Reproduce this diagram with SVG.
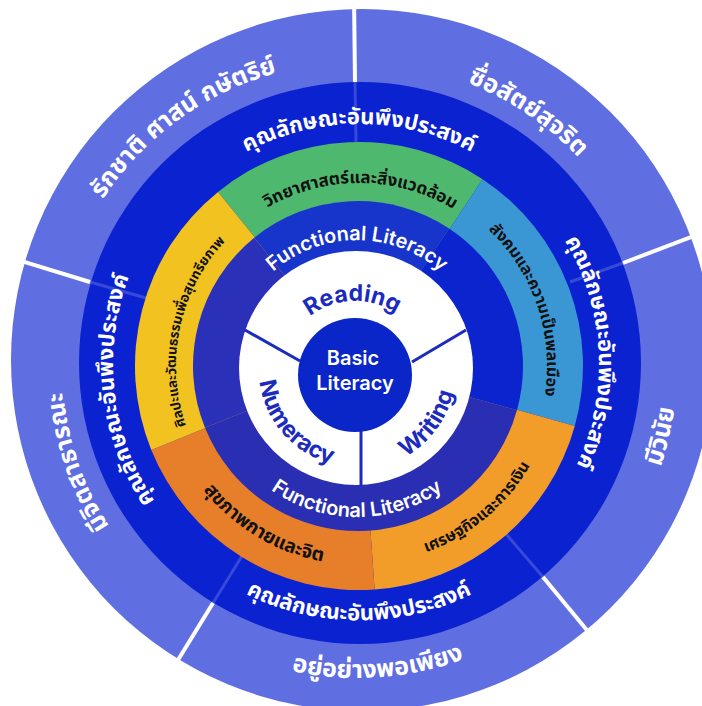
<svg xmlns="http://www.w3.org/2000/svg" width="702" height="706" viewBox="0 0 702 706">
<style>
.o{font-family:'Noto Sans Thai','Noto Sans',sans-serif;font-weight:700;font-size:25px;fill:#fff}
.d{font-family:'Noto Sans Thai','Noto Sans',sans-serif;font-weight:700;font-size:22px;fill:#fff}
.m{font-family:'Noto Sans Thai','Noto Sans',sans-serif;font-weight:700;font-size:16px;fill:#111}
.w{font-family:Inter,'Noto Sans',sans-serif;font-weight:700;font-size:23px;fill:#1B2BBE}
.f{font-family:Inter,'Noto Sans',sans-serif;font-weight:600;font-size:20px;fill:#fff}
.b{font-family:Inter,'Noto Sans',sans-serif;font-weight:600;font-size:20px;fill:#fff}
.div{stroke:#fff;stroke-width:4}
.faint{stroke:#fff;stroke-opacity:0.18;stroke-width:3}
.wl{stroke:#1B2BBE;stroke-width:3}
</style>
<defs>
<path id="po1" d="M62.0,292.5 A304,304 0 0 1 378.2,62.7"/>
<path id="po2" d="M325.2,63.7 A304,304 0 0 1 649.2,282.2"/>
<path id="po3" d="M549.6,621.6 A320,320 0 0 0 642.1,220.7"/>
<path id="po4" d="M173.6,618.4 A312,312 0 0 0 573.7,590.4"/>
<path id="po5" d="M205.1,618.9 A295,295 0 0 1 81.6,260.3"/>
<path id="pd1" d="M189.3,194.3 A240,240 0 0 1 528.7,194.3"/>
<path id="pd2" d="M519.6,185.7 A240,240 0 0 1 537.3,524.6"/>
<path id="pd3" d="M177.7,545.3 A256.5,256.5 0 0 0 540.3,545.3"/>
<path id="pd4" d="M205.9,556.5 A246,246 0 0 1 166.5,210.9"/>
<path id="pm1" d="M230.7,235.5 A183,183 0 0 1 489.5,237.7"/>
<path id="pm2" d="M442.2,197.4 A188,188 0 0 1 527.6,449.2"/>
<path id="pm3" d="M341.1,563.2 A198,198 0 0 0 556.2,383.9"/>
<path id="pm4" d="M165.9,414.1 A199,199 0 0 0 407.1,559.1"/>
<path id="pm5" d="M205.5,465.7 A183,183 0 0 1 259.3,212.5"/>
<path id="pf1" d="M237.7,323.6 A127,127 0 0 1 476.3,323.6"/>
<path id="pf2" d="M216.0,418.3 A150,150 0 0 0 498.0,418.3"/>
<path id="pr" d="M281.7,364.7 A74,74 0 0 1 427.4,359.6"/>
<path id="pn" d="M280.6,309.0 A97,97 0 0 0 406.0,453.1"/>
<path id="pw" d="M311.1,459.3 A100,100 0 0 0 428.8,301.4"/>
</defs>
<rect width="702" height="706" fill="#fff"/>
<g id="outer-ring">
<circle cx="362" cy="360" r="351" fill="#5F6EE0"/>
</g>
<g id="values-ring">
<circle cx="360" cy="363" r="281" fill="#0A22D0"/>
</g>
<g id="connectors">
<line class="div" x1="355" y1="82" x2="354" y2="-5"/>
<line class="div" x1="623" y1="263" x2="712" y2="229"/>
<line class="div" x1="543" y1="577" x2="600" y2="646"/>
<line class="div" x1="213" y1="603" x2="170" y2="673"/>
<line class="div" x1="90" y1="282" x2="-5" y2="253"/>
<line class="faint" x1="355" y1="82" x2="356" y2="142"/>
<line class="faint" x1="623" y1="263" x2="570" y2="282"/>
<line class="faint" x1="543" y1="577" x2="506" y2="534"/>
<line class="faint" x1="213" y1="603" x2="242" y2="556"/>
<line class="faint" x1="90" y1="282" x2="146" y2="298"/>
</g>
<g id="sector-science">
<path d="M359,366 L218.0,191.9 A224,224 0 0 1 482.6,179.2 Z" fill="#4FB86F"/>
</g>
<g id="sector-society">
<path d="M359,366 L482.6,179.2 A224,224 0 0 1 574.8,425.9 Z" fill="#3B97D3"/>
</g>
<g id="sector-economy">
<path d="M359,366 L574.8,425.9 A224,224 0 0 1 374.6,589.5 Z" fill="#F29C2A"/>
</g>
<g id="sector-health">
<path d="M359,366 L374.6,589.5 A224,224 0 0 1 151.3,449.9 Z" fill="#E67E2A"/>
</g>
<g id="sector-arts">
<path d="M359,366 L151.3,449.9 A224,224 0 0 1 218.0,191.9 Z" fill="#F2C320"/>
</g>
<g id="functional-ring">
<path d="M358,366 L254.2,237.8 A165,165 0 0 1 449.1,228.4 Z" fill="#1835CB"/>
<path d="M358,366 L449.1,228.4 A165,165 0 0 1 517.0,410.1 Z" fill="#0C24CE"/>
<path d="M358,366 L517.0,410.1 A165,165 0 0 1 205.0,427.8 Z" fill="#2A2EB2"/>
<path d="M358,366 L205.0,427.8 A165,165 0 0 1 254.2,237.8 Z" fill="#2B30B8"/>
</g>
<g id="basic-ring">
<circle cx="356" cy="368" r="117" fill="#fff"/>
<line class="wl" x1="245" y1="330" x2="300" y2="361"/>
<line class="wl" x1="466" y1="330" x2="412" y2="362"/>
<line class="wl" x1="361" y1="430" x2="361" y2="486"/>
</g>
<g id="basic-literacy">
<circle cx="355" cy="375" r="57" fill="#0A25C8"/>
<text class="b" x="353" y="365" text-anchor="middle">Basic</text>
<text class="b" x="355" y="390" text-anchor="middle">Literacy</text>
</g>
<g id="labels-outer">
<text class="o"><textPath href="#po1" startOffset="50%" text-anchor="middle">รักชาติ ศาสน์ กษัตริย์</textPath></text>
<text class="o"><textPath href="#po2" startOffset="50%" text-anchor="middle">ซื่อสัตย์สุจริต</textPath></text>
<text class="o"><textPath href="#po3" startOffset="50%" text-anchor="middle">มีวินัย</textPath></text>
<text class="o"><textPath href="#po4" startOffset="50%" text-anchor="middle">อยู่อย่างพอเพียง</textPath></text>
<text class="o"><textPath href="#po5" startOffset="50%" text-anchor="middle">มีจิตสาธารณะ</textPath></text>
</g>
<g id="labels-values">
<text class="d"><textPath href="#pd1" startOffset="50%" text-anchor="middle">คุณลักษณะอันพึงประสงค์</textPath></text>
<text class="d"><textPath href="#pd2" startOffset="50%" text-anchor="middle">คุณลักษณะอันพึงประสงค์</textPath></text>
<text class="d"><textPath href="#pd3" startOffset="50%" text-anchor="middle">คุณลักษณะอันพึงประสงค์</textPath></text>
<text class="d"><textPath href="#pd4" startOffset="50%" text-anchor="middle">คุณลักษณะอันพึงประสงค์</textPath></text>
</g>
<g id="labels-sectors">
<text class="m" style="font-size:17px"><textPath href="#pm1" startOffset="50%" text-anchor="middle">วิทยาศาสตร์และสิ่งแวดล้อม</textPath></text>
<text class="m"><textPath href="#pm2" startOffset="50%" text-anchor="middle">สังคมและความเป็นพลเมือง</textPath></text>
<text class="m"><textPath href="#pm3" startOffset="50%" text-anchor="middle">เศรษฐกิจและการเงิน</textPath></text>
<text class="m" style="font-size:19px"><textPath href="#pm4" startOffset="50%" text-anchor="middle">สุขภาพกายและจิต</textPath></text>
<text class="m" style="font-size:13.5px"><textPath href="#pm5" startOffset="50%" text-anchor="middle">ศิลปะและวัฒนธรรมเพื่อสุนทรียภาพ</textPath></text>
</g>
<g id="labels-functional">
<text class="f"><textPath href="#pf1" startOffset="50%" text-anchor="middle">Functional Literacy</textPath></text>
<text class="f"><textPath href="#pf2" startOffset="50%" text-anchor="middle">Functional Literacy</textPath></text>
</g>
<g id="labels-basic">
<text class="w"><textPath href="#pr" startOffset="50%" text-anchor="middle">Reading</textPath></text>
<text class="w"><textPath href="#pn" startOffset="50%" text-anchor="middle">Numeracy</textPath></text>
<text class="w"><textPath href="#pw" startOffset="50%" text-anchor="middle">Writing</textPath></text>
</g>
</svg>
